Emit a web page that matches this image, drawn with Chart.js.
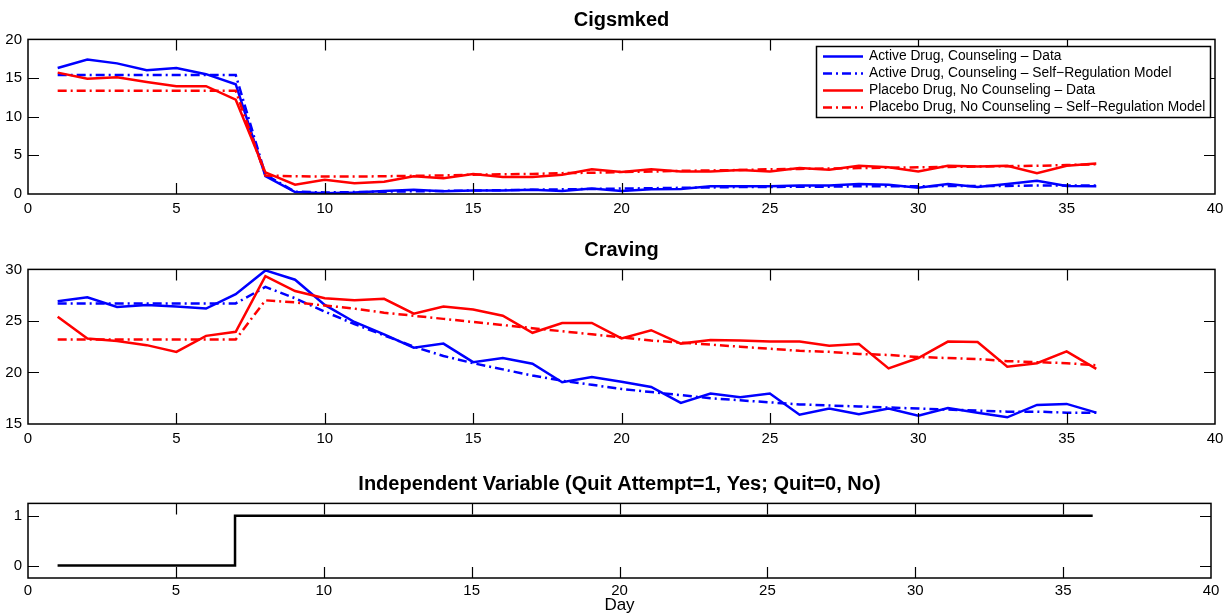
<!DOCTYPE html>
<html>
<head>
<meta charset="utf-8">
<script src="https://cdn.jsdelivr.net/npm/chart.js@4.4.0/dist/chart.umd.min.js"></script>
<style>
  body { margin: 0; background: #fff; }
  #wrap { position: relative; width: 1231px; height: 616px; }
  canvas { position: absolute; left: 0; }
</style>
</head>
<body>
<div id="wrap">
  <canvas id="cigs" width="1231" height="218" style="top:0px"></canvas>
  <canvas id="crav" width="1231" height="218" style="top:230px"></canvas>
  <canvas id="indep" width="1231" height="152" style="top:464px"></canvas>
</div>
<script>
const days = [1, 2, 3, 4, 5, 6, 7, 8, 9, 10, 11, 12, 13, 14, 15, 16, 17, 18,
  19, 20, 21, 22, 23, 24, 25, 26, 27, 28, 29, 30, 31, 32, 33, 34, 35, 36];

// Cigsmked
const cigActiveData = [16.3, 17.4, 16.9, 16.0, 16.3, 15.5, 14.2, 2.3, 0.25, 0.1, 0.2, 0.4,
  0.55, 0.35, 0.45, 0.45, 0.55, 0.4, 0.7, 0.4, 0.6, 0.65, 1.0, 1.0,
  1.0, 1.1, 1.1, 1.3, 1.2, 0.8, 1.3, 0.9, 1.3, 1.7, 1.05, 1.0];
const cigActiveModel = [15.4, 15.4, 15.4, 15.4, 15.4, 15.4, 15.4, 2.5, 0.3, 0.2, 0.25, 0.3,
  0.35, 0.4, 0.45, 0.5, 0.55, 0.6, 0.65, 0.7, 0.75, 0.8, 0.85, 0.9,
  0.9, 0.95, 0.95, 1.0, 1.0, 1.0, 1.05, 1.05, 1.05, 1.1, 1.1, 1.1];
const cigPlaceboData = [15.7, 14.9, 15.1, 14.5, 13.95, 13.95, 12.2, 2.8, 1.2, 1.85, 1.4, 1.6,
  2.3, 2.05, 2.6, 2.2, 2.2, 2.5, 3.2, 2.85, 3.2, 2.9, 2.9, 3.1,
  2.9, 3.35, 3.15, 3.65, 3.45, 2.9, 3.65, 3.55, 3.65, 2.7, 3.65, 3.95];
const cigPlaceboModel = [13.35, 13.35, 13.35, 13.35, 13.35, 13.35, 13.35, 2.4, 2.3, 2.25, 2.25, 2.3,
  2.35, 2.4, 2.5, 2.55, 2.6, 2.7, 2.75, 2.85, 2.9, 3.0, 3.05, 3.1,
  3.2, 3.25, 3.3, 3.35, 3.4, 3.45, 3.5, 3.55, 3.6, 3.65, 3.75, 3.85];

// Craving
const cravActiveData = [26.9, 27.3, 26.35, 26.55, 26.4, 26.2, 27.6, 29.9, 29.0, 26.55, 24.9, 23.7,
  22.4, 22.8, 21.0, 21.4, 20.85, 19.05, 19.55, 19.1, 18.6, 17.05, 17.95, 17.6,
  17.95, 15.9, 16.5, 15.95, 16.5, 15.8, 16.55, 16.1, 15.65, 16.85, 16.95, 16.1];
const cravActiveModel = [26.7, 26.7, 26.7, 26.7, 26.7, 26.7, 26.7, 28.3, 27.2, 25.9, 24.7, 23.6,
  22.5, 21.6, 20.9, 20.3, 19.7, 19.2, 18.8, 18.4, 18.1, 17.8, 17.5, 17.3,
  17.1, 16.9, 16.8, 16.7, 16.6, 16.5, 16.4, 16.3, 16.2, 16.2, 16.1, 16.1];
const cravPlaceboData = [25.4, 23.3, 23.05, 22.65, 22.0, 23.55, 23.95, 29.35, 27.9, 27.2, 27.0, 27.15,
  25.7, 26.4, 26.1, 25.5, 23.85, 24.8, 24.8, 23.3, 24.1, 22.8, 23.15, 23.1,
  23.0, 23.0, 22.6, 22.75, 20.4, 21.4, 23.0, 22.95, 20.55, 20.9, 22.05, 20.35];
const cravPlaceboModel = [23.2, 23.2, 23.2, 23.2, 23.2, 23.2, 23.2, 27.0, 26.8, 26.5, 26.2, 25.8,
  25.5, 25.2, 24.9, 24.6, 24.3, 24.0, 23.7, 23.4, 23.1, 22.9, 22.7, 22.5,
  22.3, 22.1, 22.0, 21.8, 21.7, 21.5, 21.4, 21.3, 21.1, 21.0, 20.9, 20.7];

// Independent variable (quit attempt)
const quitAttempt = [0, 0, 0, 0, 0, 0, 1, 1, 1, 1, 1, 1, 1, 1, 1, 1, 1, 1,
  1, 1, 1, 1, 1, 1, 1, 1, 1, 1, 1, 1, 1, 1, 1, 1, 1, 1];

const seriesLabels = [
  'Active Drug, Counseling \u2013 Data',
  'Active Drug, Counseling \u2013 Self\u2212Regulation Model',
  'Placebo Drug, No Counseling \u2013 Data',
  'Placebo Drug, No Counseling \u2013 Self\u2212Regulation Model'
];

const FONT = "'Liberation Sans', Arial, Helvetica, sans-serif";
const dashDot = [9, 4, 2, 4];

function pts(values) {
  return values.map((v, i) => ({ x: days[i], y: v }));
}

function lineSet(label, values, color, dash, order) {
  return {
    label: label,
    data: pts(values),
    borderColor: color,
    backgroundColor: color,
    borderWidth: 2.5,
    borderDash: dash,
    pointRadius: 0,
    tension: 0,
    fill: false,
    order: order
  };
}

// box around the plot area and matlab style ticks pointing inward
const boxPlugin = {
  id: 'box',
  afterDraw(chart) {
    const ctx = chart.ctx;
    const a = chart.chartArea;
    const xs = chart.scales.x, ys = chart.scales.y;
    const len = 11;
    ctx.save();
    ctx.strokeStyle = '#000';
    ctx.lineWidth = 1.2;
    ctx.beginPath();
    xs.ticks.forEach(t => {
      const px = Math.round(xs.getPixelForValue(t.value)) + 0.5;
      if (px <= a.left + 1 || px >= a.right - 1) return;
      ctx.moveTo(px, a.bottom); ctx.lineTo(px, a.bottom - len);
      ctx.moveTo(px, a.top); ctx.lineTo(px, a.top + len);
    });
    ys.ticks.forEach(t => {
      const py = Math.round(ys.getPixelForValue(t.value)) + 0.5;
      if (py <= a.top + 1 || py >= a.bottom - 1) return;
      ctx.moveTo(a.left, py); ctx.lineTo(a.left + len, py);
      ctx.moveTo(a.right, py); ctx.lineTo(a.right - len, py);
    });
    ctx.stroke();
    ctx.lineWidth = 1.5;
    ctx.strokeRect(a.left, a.top, a.right - a.left, a.bottom - a.top);
    ctx.restore();
  }
};

// legend drawn inside the plot, top right
const boxLegend = {
  id: 'boxLegend',
  afterDraw(chart, args, opts) {
    if (!opts.show) return;
    const ctx = chart.ctx;
    const sets = chart.data.datasets;
    const left = 816, top = 46, w = 394, h = 71;
    ctx.save();
    ctx.fillStyle = '#fff';
    ctx.fillRect(left, top, w, h);
    ctx.strokeStyle = '#000';
    ctx.lineWidth = 1.5;
    ctx.strokeRect(left + 0.5, top + 0.5, w, h);
    ctx.font = '13.8px ' + FONT;
    ctx.textBaseline = 'middle';
    ctx.textAlign = 'left';
    sets.forEach((ds, i) => {
      const y = top + 10.5 + i * 17;
      ctx.strokeStyle = ds.borderColor;
      ctx.lineWidth = 2.5;
      ctx.setLineDash(ds.borderDash || []);
      ctx.beginPath();
      ctx.moveTo(left + 7, y);
      ctx.lineTo(left + 47, y);
      ctx.stroke();
      ctx.setLineDash([]);
      ctx.fillStyle = '#000';
      ctx.fillText(ds.label, left + 53, y);
    });
    ctx.restore();
  }
};

function makeOptions(cfg) {
  return {
    responsive: false,
    animation: false,
    devicePixelRatio: 1,
    layout: { padding: { left: 0, right: cfg.right, top: 0, bottom: 0 } },
    plugins: {
      legend: { display: false },
      tooltip: { enabled: false },
      title: {
        display: true,
        fullSize: false,
        text: cfg.title,
        color: '#000',
        font: { family: FONT, size: 20, weight: 'bold' },
        padding: { top: 8, bottom: 7.4 }
      },
      boxLegend: { show: !!cfg.legend }
    },
    scales: {
      x: {
        type: 'linear',
        min: 0,
        max: 40,
        grid: { display: false, drawTicks: false },
        border: { display: false },
        ticks: { stepSize: 5, color: '#000', padding: cfg.xPad, font: { family: FONT, size: 15 } },
        title: cfg.xTitle ? {
          display: true, text: cfg.xTitle, color: '#000',
          font: { family: FONT, size: 17 }, padding: { top: 0, bottom: 0 }
        } : { display: false },
        afterFit: s => { s.height = cfg.xHeight; }
      },
      y: {
        type: 'linear',
        min: cfg.ymin,
        max: cfg.ymax,
        grid: { display: false, drawTicks: false },
        border: { display: false },
        ticks: { stepSize: cfg.ystep, color: '#000', padding: 6, font: { family: FONT, size: 15 } },
        afterBuildTicks: cfg.yTicks ? s => { s.ticks = cfg.yTicks.map(v => ({ value: v })); } : undefined,
        afterFit: s => { s.width = 28; }
      }
    }
  };
}

new Chart(document.getElementById('cigs'), {
  type: 'line',
  data: {
    datasets: [
      lineSet(seriesLabels[0], cigActiveData, '#0000ff', [], 4),
      lineSet(seriesLabels[1], cigActiveModel, '#0000ff', dashDot, 3),
      lineSet(seriesLabels[2], cigPlaceboData, '#ff0000', [], 2),
      lineSet(seriesLabels[3], cigPlaceboModel, '#ff0000', dashDot, 1)
    ]
  },
  options: makeOptions({ title: 'Cigsmked', right: 16, ymin: 0, ymax: 20, ystep: 5, xHeight: 24, xPad: 6, legend: true }),
  plugins: [boxPlugin, boxLegend]
});

new Chart(document.getElementById('crav'), {
  type: 'line',
  data: {
    datasets: [
      lineSet(seriesLabels[0], cravActiveData, '#0000ff', [], 4),
      lineSet(seriesLabels[1], cravActiveModel, '#0000ff', dashDot, 3),
      lineSet(seriesLabels[2], cravPlaceboData, '#ff0000', [], 2),
      lineSet(seriesLabels[3], cravPlaceboModel, '#ff0000', dashDot, 1)
    ]
  },
  options: makeOptions({ title: 'Craving', right: 16, ymin: 15, ymax: 30, ystep: 5, xHeight: 24, xPad: 6 }),
  plugins: [boxPlugin, boxLegend]
});

new Chart(document.getElementById('indep'), {
  type: 'line',
  data: {
    datasets: [{
      label: 'Quit Attempt',
      data: pts(quitAttempt),
      borderColor: '#000',
      borderWidth: 2.5,
      pointRadius: 0,
      stepped: 'before',
      fill: false
    }]
  },
  options: makeOptions({
    title: 'Independent Variable (Quit Attempt=1, Yes; Quit=0, No)',
    right: 20, ymin: -0.25, ymax: 1.25, ystep: 1, yTicks: [0, 1],
    xHeight: 38, xPad: 4, xTitle: 'Day'
  }),
  plugins: [boxPlugin, boxLegend]
});
</script>
</body>
</html>
